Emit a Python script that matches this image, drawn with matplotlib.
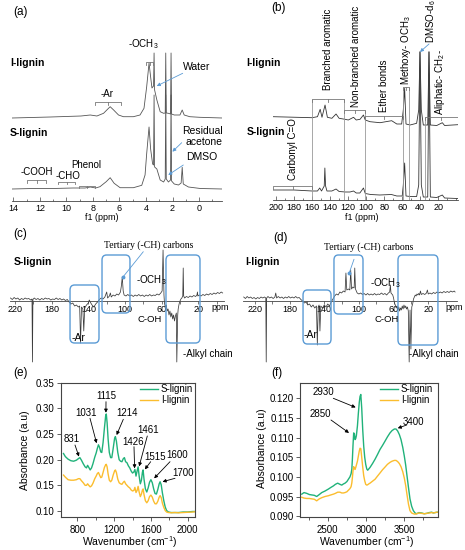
import numpy as np
import matplotlib
matplotlib.use("Agg")
import matplotlib.pyplot as plt
from matplotlib.patches import FancyBboxPatch
from matplotlib.ticker import MultipleLocator, FixedLocator, FormatStrFormatter

plt.rcParams['font.family'] = ['Liberation Sans', 'DejaVu Sans']
plt.rcParams['mathtext.default'] = 'regular'

W, H = 465, 550
GREEN = '#20b27a'
ORANGE = '#fbbd2e'
BLUE = '#5b9bd5'
GREY = '#555555'

# ---------------- (a) 1H NMR ----------------
a_ppm_I = [14.1, 11.2, 8.9, 8.2, 7.7, 7.2, 6.9, 6.7, 6.44, 6.07,
           5.7, 4.95, 4.45, 4.15, 3.95, 3.77, 3.65, 3.55, 3.43, 3.39,
           3.35, 3.18, 2.93, 2.67, 2.55, 2.51, 2.47, 2.31, 2.15, 2.11,
           2.07, 1.87, 1.44, 1.27, 1.12, 0.7, -0.05, -1.75]
a_int_I = [0, 1, 2, 3, 2, 4.7, 8.7, 11.3, 8, 3,
           1.3, 1.3, 3, 9.7, 31, 55, 41, 30, 32, 65,
           28, 18, 6.3, 4.7, 5, 65, 5, 4.7, 4, 65,
           4, 3, 3, 8, 3, 1.3, 0.7, 0]
a_ppm_S = [14.1, 12.5, 11.0, 9.5, 8.6, 8.2, 7.8, 7.47, 7.0, 6.7,
           6.4, 5.95, 4.95, 4.32, 4.07, 3.95, 3.77, 3.65, 3.5, 3.43,
           3.39, 3.35, 3.18, 2.93, 2.67, 2.55, 2.51, 2.47, 2.31, 2.15,
           2.11, 2.07, 1.87, 1.55, 1.35, 1.27, 1.19, 0.8, -0.1, -1.75]
a_int_S = [0, 0.5, 0.5, 1, 1, 2, 1, 2.3, 7.3, 11.3,
           5.7, 1.3, 1.3, 3.7, 14, 35, 62, 40, 25, 24,
           94, 22, 20, 9, 7, 10, 94, 10, 7, 9,
           94, 8, 5, 4, 6, 21.7, 5, 2, 0.5, 0]

# ---------------- (b) 13C NMR ----------------
b_ppm_I = [203, 177, 160, 154, 151, 149, 145.6, 143, 138, 133.4,
           130, 123.4, 119.8, 114, 111, 106.8, 103, 101, 95.7, 84.6,
           71.7, 66, 60.6, 58.8, 57.3, 55.8, 51.3, 44, 41.7, 40.3,
           38.8, 36.6, 31.7, 30.3, 28.8, 21.7, 15.5, 13, -1.5]
b_int_I = [7.3, 6.7, 6.3, 7.3, 14.7, 6.7, 19, 6.7, 5.7, 10,
           5.7, 4.7, 4, 6.7, 4, 4.7, 9, 4, 2.3, 1.3,
           3.3, 0, 0, 14, 35.7, 0, -1, 0.7, 14, 72.3,
           14, -1, -1, 72.3, -1, -1.5, 1.3, -1.5, -0.7]
b_ppm_S = [203, 180, 160, 154, 151.5, 149.5, 146.5, 145.8, 145, 143.5,
           138, 133.4, 130, 123, 118, 114, 111, 107, 103, 101,
           95, 85, 72, 66, 60, 58.8, 57.3, 55.8, 51, 44,
           41.7, 40.3, 38.8, 36.6, 31.7, 30.3, 28.8, 21.7, 15.5, 13,
           -1.5]
b_int_S = [10, 10, 9, 9, 12, 9, 14, 32, 14, 9,
           9, 11, 8.5, 8, 8, 9, 7, 7, 12, 6.5,
           5.5, 5, 5.5, 4, 4, 15, 37, 4, 3.5, 3.5,
           15, 148, 15, 3, 3, 148, 3, 2.5, 5, 2,
           1.5]

# ---------------- (c) S-lignin DEPT ----------------
c_ppm = [225, 223, 221, 219, 217, 215, 213, 211, 209, 207,
         205, 203, 201.5, 201, 200.5, 199, 197, 195, 193, 191,
         189, 187, 185, 183, 181, 179, 177, 175, 173, 171,
         169, 167, 165, 163, 161, 159, 157, 155, 153, 151,
         149.5, 148.5, 147.5, 146, 145, 144, 142, 140, 139, 138,
         136, 134, 132, 130, 128, 126, 124, 122, 120, 119,
         117, 116, 115, 113, 111, 109, 107, 105, 104, 103,
         102, 101, 99, 97, 95, 93, 91, 89, 87, 85,
         83, 81, 79, 77, 75, 73, 71, 69, 67, 65,
         63, 61, 59.5, 58.5, 57.5, 57, 56, 55, 54, 53,
         52, 51, 50, 49, 48, 47, 46, 45, 44, 43.5,
         42.5, 42, 41, 40, 39, 38, 37, 36.5, 36, 35,
         33, 31, 29, 27, 25, 23, 21.5, 21, 20.5, 19,
         17, 15, 13, 11, 9, 7, 5, 3, 1, -1,
         -3, -5, -6.5]
c_int = [3, 1.5, 3.5, 2, 3, 1, 2.5, 1.5, 3, 2,
         2.5, 1, 2, -61, 1.5, 3, 1.5, 2.5, 1, 2.5,
         1.5, 3, 2, 2.5, 1, 2, 1.5, 3, 1.5, 2.5,
         1, 2, 0.5, 1.5, -1, -3, -2, -5, -4, -6,
         -5, -42, -6, -8, -30, -7, -4, -2, 1, -1,
         -4, -6, -3, -1, 1.5, 3, 2, 4, 9, 3,
         5, 8, 4, 6, 5, 7, 6, 9, 15, 24,
         10, 6, 5, 6.5, 5, 6, 4.5, 6, 5, 6.5,
         5, 6, 4.5, 6, 5, 6.5, 5, 6, 5.5, 7,
         6, 8, 10, 51, 6, -2, -6, -4, -10, -8,
         -14, -10, -16, -12, -18, -14, -20, -15, -12, -61,
         -14, -8, -3, 0, 2, 3, 5, 33, 5, 3,
         4.5, 3.5, 5, 4, 5.5, 4.5, 6, 9, 5, 6,
         5, 6.5, 5.5, 7, 6, 7.5, 6.5, 8, 7, 8.5,
         7.5, 9, 8]

# ---------------- (d) I-lignin DEPT ----------------
d_ppm = [233, 231, 229, 227, 225, 223, 221, 219, 217, 215,
         213, 211, 209, 207.5, 207, 206.5, 205, 203, 201, 199,
         197, 196, 195, 193, 191, 189, 187, 185, 183, 181,
         179, 177, 175, 173, 171, 169, 167, 165, 163, 161,
         159, 157, 155, 153, 151, 149, 148, 147, 146, 145,
         144, 142, 140, 138, 136, 134, 132, 130, 128, 126,
         124, 122, 120, 118, 116, 115, 114, 112, 110.5, 109.5,
         108.5, 107, 105.5, 104.8, 104, 102, 100, 98, 96, 94,
         92, 90, 88, 86, 84, 82, 80, 78, 76, 74,
         72, 70, 68, 66, 64.5, 63.7, 63, 61, 60, 59,
         58, 57, 56, 55, 54, 53, 52, 51, 50, 49,
         48, 47, 46, 45, 44, 43, 42, 41, 40, 39,
         38, 37, 36, 35, 34, 33, 32, 31, 30, 29,
         28, 26, 24, 22, 21, 20, 18, 16, 14, 12,
         10, 8, 6, 4, 2, 0, -2, -4, -6, -8,
         -10, -11]
d_int = [4, 2.5, 4.5, 3, 4, 2.5, 3.5, 2, 3.5, 2.5,
         4, 3, 4, 3, -61, 3, 4.5, 3, 4, 2.5,
         4, 8, 3, 4.5, 3, 4, 2.5, 4, 3, 4.5,
         3, 4, 3, 4.5, 3, 3.5, 1.5, 0, -2, -1,
         -4, -3, -6, -4, -7, -5, -44, -6, -4, -30,
         -5, -7, -4, -6, -3, -5, -1, 2, 5, 7,
         6, 9, 8, 10, 9, 28, 11, 12, 11, 31,
         12, 14, 13, 33, 12, 8, 7, 8, 6.5, 7.5,
         6, 7.5, 6, 7, 6, 7.5, 6, 7, 6.5, 8,
         6.5, 7.5, 6, 8, 9, 16, 8, 6, 3, -2,
         -4, -7, -5, -9, -6, -10, -7, -9, -5, -8,
         -4, -7, -5, -8, -6, -10, -61, -9, -48, -6,
         -3, 2, 4, 6, 5, 7, 6, 7.5, 6, 10,
         6.5, 7.5, 6.5, 8, 11, 7, 8, 7, 8.5, 7.5,
         9, 8, 9, 8, 9.5, 8.5, 9.5, 8.5, 10, 9,
         10, 9]

# ---------------- (e) FTIR fingerprint ----------------
e_wavenumber = [650, 670, 700, 730, 760, 790, 812, 828, 845, 865,
                885, 900, 912, 925, 940, 955, 970, 990, 1005, 1018,
                1030, 1042, 1055, 1066, 1080, 1095, 1108, 1115, 1124, 1135,
                1148, 1162, 1175, 1190, 1205, 1214, 1225, 1240, 1255, 1270,
                1285, 1300, 1312, 1325, 1340, 1355, 1370, 1385, 1400, 1415,
                1426, 1438, 1450, 1461, 1472, 1485, 1497, 1508, 1515, 1525,
                1540, 1555, 1570, 1585, 1600, 1615, 1630, 1645, 1660, 1675,
                1690, 1700, 1712, 1725, 1740, 1755, 1770, 1790, 1820, 1860,
                1900, 1950, 2000, 2050, 2075]
e_abs_S = [0.212, 0.206, 0.201, 0.198, 0.197, 0.199, 0.202, 0.204, 0.199, 0.192,
           0.186, 0.184, 0.189, 0.185, 0.180, 0.184, 0.192, 0.205, 0.213, 0.222,
           0.229, 0.224, 0.215, 0.214, 0.233, 0.262, 0.285, 0.289, 0.272, 0.240,
           0.214, 0.204, 0.204, 0.222, 0.241, 0.245, 0.236, 0.214, 0.200, 0.197,
           0.196, 0.202, 0.204, 0.196, 0.194, 0.188, 0.184, 0.178, 0.174, 0.176,
           0.181, 0.168, 0.178, 0.186, 0.168, 0.153, 0.160, 0.176, 0.180, 0.162,
           0.143, 0.137, 0.145, 0.156, 0.161, 0.155, 0.143, 0.134, 0.133, 0.142,
           0.153, 0.157, 0.151, 0.135, 0.120, 0.108, 0.101, 0.098, 0.097, 0.097,
           0.097, 0.098, 0.098, 0.099, 0.099]
e_abs_I = [0.170, 0.166, 0.161, 0.160, 0.160, 0.161, 0.163, 0.163, 0.159, 0.155,
           0.150, 0.150, 0.153, 0.150, 0.147, 0.149, 0.154, 0.163, 0.168, 0.173,
           0.175, 0.170, 0.165, 0.166, 0.175, 0.185, 0.190, 0.191, 0.186, 0.172,
           0.160, 0.157, 0.160, 0.170, 0.178, 0.180, 0.175, 0.162, 0.155, 0.153,
           0.152, 0.156, 0.158, 0.153, 0.150, 0.147, 0.145, 0.141, 0.139, 0.140,
           0.146, 0.136, 0.140, 0.148, 0.137, 0.128, 0.133, 0.141, 0.143, 0.132,
           0.120, 0.116, 0.120, 0.128, 0.131, 0.127, 0.119, 0.114, 0.114, 0.119,
           0.127, 0.130, 0.126, 0.115, 0.107, 0.101, 0.098, 0.097, 0.0965, 0.097,
           0.0965, 0.097, 0.0975, 0.098, 0.0985]
e_peaks = ['831', '1031', '1115', '1214', '1426', '1461', '1515', '1600', '1700']

# ---------------- (f) FTIR high wavenumber ----------------
f_wavenumber = [2161, 2190, 2226, 2260, 2291, 2325, 2356, 2390, 2422, 2465,
                2509, 2540, 2574, 2600, 2630, 2660, 2683, 2705, 2726, 2750,
                2770, 2790, 2805, 2815, 2822, 2830, 2839, 2848, 2857, 2866,
                2874, 2888, 2900, 2912, 2922, 2932, 2944, 2957, 2970, 2983,
                2996, 3010, 3022, 3035, 3052, 3085, 3118, 3150, 3183, 3215,
                3248, 3280, 3313, 3340, 3370, 3392, 3413, 3435, 3457, 3480,
                3500, 3518, 3535, 3555, 3574, 3596, 3618, 3640, 3661, 3690,
                3727, 3760, 3792, 3825, 3857, 3880, 3901, 3930]
f_abs_S = [0.0956, 0.0960, 0.0958, 0.0955, 0.0954, 0.0953, 0.0950, 0.0955, 0.0960, 0.0964,
           0.0969, 0.0973, 0.0977, 0.0981, 0.0984, 0.0981, 0.0979, 0.0982, 0.0984, 0.0988,
           0.0994, 0.1000, 0.1008, 0.1020, 0.1045, 0.1080, 0.1112, 0.1110, 0.1095, 0.1098,
           0.1105, 0.1130, 0.1162, 0.1190, 0.1205, 0.1210, 0.1175, 0.1120, 0.1078, 0.1050,
           0.1032, 0.1020, 0.1017, 0.1020, 0.1024, 0.1034, 0.1045, 0.1057, 0.1070, 0.1080,
           0.1091, 0.1102, 0.1112, 0.1118, 0.1122, 0.1122, 0.1117, 0.1108, 0.1095, 0.1075,
           0.1053, 0.1030, 0.1003, 0.0972, 0.0944, 0.0925, 0.0914, 0.0908, 0.0906, 0.0909,
           0.0908, 0.0906, 0.0907, 0.0909, 0.0910, 0.0908, 0.0909, 0.0910]
f_abs_I = [0.0948, 0.0946, 0.0945, 0.0945, 0.0944, 0.0943, 0.0939, 0.0944, 0.0947, 0.0950,
           0.0952, 0.0954, 0.0956, 0.0958, 0.0961, 0.0961, 0.0959, 0.0959, 0.0960, 0.0962,
           0.0966, 0.0970, 0.0975, 0.0985, 0.0998, 0.1015, 0.1026, 0.1022, 0.1019, 0.1024,
           0.1030, 0.1040, 0.1053, 0.1066, 0.1073, 0.1072, 0.1050, 0.1025, 0.1003, 0.0990,
           0.0981, 0.0979, 0.0980, 0.0982, 0.0984, 0.0989, 0.0994, 0.1002, 0.1010, 0.1018,
           0.1025, 0.1032, 0.1037, 0.1040, 0.1042, 0.1042, 0.1039, 0.1034, 0.1026, 0.1013,
           0.0997, 0.0978, 0.0955, 0.0930, 0.0914, 0.0908, 0.0906, 0.0905, 0.0906, 0.0908,
           0.0907, 0.0906, 0.0907, 0.0908, 0.0909, 0.0908, 0.0909, 0.0910]
f_peaks = ['2930', '2850', '3400']


fig = plt.figure(figsize=(W / 100, H / 100), dpi=100)


def fx(x):
    return x / W


def fy(y):
    return 1 - y / H


def add_ax(left, top, right, bottom):
    return fig.add_axes([fx(left), fy(bottom), (right - left) / W, (bottom - top) / H])


def ftext(x, y, s, **kw):
    opts = dict(ha='center', va='center', fontsize=7)
    opts.update(kw)
    fig.text(fx(x), fy(y), s, **opts)


def bracket(ax, x0, x1, y, drop=2.5, color='#777777'):
    ax.plot([x0, x0, x1, x1], [y - drop, y, y, y - drop], color=color, lw=0.6)
    xm = (x0 + x1) / 2
    ax.plot([xm, xm], [y, y - drop], color=color, lw=0.6)


def pointer(ax, start_px, tip, color=BLUE, head=True):
    style = '-|>' if head else '-'
    ax.annotate('', xy=tip, xycoords='data',
                xytext=(fx(start_px[0]), fy(start_px[1])), textcoords='figure fraction',
                arrowprops=dict(arrowstyle=style, color=color, lw=0.6,
                                mutation_scale=5, shrinkA=0, shrinkB=0))


def nmr_axis(ax, tick_dir='in'):
    for s in ['left', 'right', 'top']:
        ax.spines[s].set_visible(False)
    ax.spines['bottom'].set_color('#444444')
    ax.spines['bottom'].set_linewidth(0.6)
    ax.set_yticks([])
    ax.tick_params(axis='x', which='major', direction=tick_dir, length=3, width=0.5,
                   labelsize=6.5, pad=2.5, color='#444444')
    ax.tick_params(axis='x', which='minor', direction=tick_dir, length=1.5, width=0.5,
                   color='#444444')
    ax.patch.set_alpha(0)


# ======== (a) ========
ax_a = add_ax(12, 40, 222, 201)
ax_a.plot(a_ppm_I, np.array(a_int_I) + 83, color=GREY, lw=0.6)
ax_a.plot(a_ppm_S, np.array(a_int_S) + 12, color=GREY, lw=0.6)
ax_a.set_xlim(14.1, -1.73)
ax_a.set_ylim(0, 161)
ax_a.xaxis.set_major_locator(MultipleLocator(2))
ax_a.xaxis.set_minor_locator(MultipleLocator(1))
nmr_axis(ax_a)
ftext(20.7, 11.7, '(a)', fontsize=8.5)
ftext(10, 63.3, 'I-lignin', ha='left', fontweight='bold', fontsize=7.5)
ftext(10, 132.7, 'S-lignin', ha='left', fontweight='bold', fontsize=7.5)
ftext(101.7, 217.7, 'f1 (ppm)', fontsize=6.5)
ftext(143.3, 44, '-OCH$_3$')
bracket(ax_a, 4.02, 3.45, 138.7)
ftext(107.3, 94, '-Ar')
bracket(ax_a, 7.84, 5.88, 98.7)
ftext(196.7, 66.7, 'Water', fontsize=7.5)
pointer(ax_a, (182.7, 73.3), (3.19, 115))
ftext(222.7, 130.7, 'Residual', ha='right', fontsize=7.5)
ftext(222.7, 141.7, 'acetone', ha='right', fontsize=7.5)
pointer(ax_a, (181.7, 142.7), (2.01, 49.3))
ftext(201.7, 157.3, 'DMSO', fontsize=7.5)
pointer(ax_a, (183.3, 165), (2.32, 26))
ftext(36.7, 171.7, '-COOH')
bracket(ax_a, 13.0, 11.5, 21)
ftext(68.3, 175.7, '-CHO')
bracket(ax_a, 10.6, 9.35, 19.3)
ftext(86, 165, 'Phenol')
bracket(ax_a, 9.05, 7.84, 15.3)

# ======== (b) ========
ax_b = add_ax(273.3, 40, 457.7, 200)
ax_b.plot(b_ppm_I, np.array(b_int_I) + 76, color='#333333', lw=0.6)
ax_b.plot(b_ppm_S, b_int_S, color='#333333', lw=0.6)
ax_b.set_xlim(203.0, -1.55)
ax_b.set_ylim(0, 160)
ax_b.xaxis.set_major_locator(FixedLocator([200, 180, 160, 140, 120, 100, 80, 60, 40, 20]))
ax_b.xaxis.set_minor_locator(MultipleLocator(10))
nmr_axis(ax_b)
ax_b.vlines([160.4, 124.2, 101.3, 58.8, 52.5, 34.8], 0, [101, 101, 90, 113, 113, 83],
            color='#999999', lw=0.6)
bracket(ax_b, 203, 160.4, 14)
bracket(ax_b, 160.4, 124.2, 101)
bracket(ax_b, 124.2, 101.3, 90)
bracket(ax_b, 101.3, 58.8, 84)
bracket(ax_b, 58.8, 52.5, 113)
bracket(ax_b, 34.8, -1.5, 83)
rot = dict(rotation=90, ha='center', va='bottom', fontsize=7)
ax_b.text(181, 20, 'Carbonyl C=O', **rot)
ax_b.text(142, 110, 'Branched aromatic', **rot)
ax_b.text(111, 93, 'Non-branched aromatic', **rot)
ax_b.text(80, 88, 'Ether bonds', **rot)
ax_b.text(56, 115, 'Methoxy- OCH$_3$', **rot)
ax_b.text(28, 157, 'DMSO-d$_6$', **rot)
ax_b.text(18, 85, 'Aliphatic- CH$_2$-', **rot)
pointer(ax_b, (429, 44), (40.3, 148))
ftext(278.3, 8.3, '(b)', fontsize=8.5)
ftext(246.7, 63.3, 'I-lignin', ha='left', fontweight='bold', fontsize=7.5)
ftext(246.7, 131.7, 'S-lignin', ha='left', fontweight='bold', fontsize=7.5)
ftext(361.7, 217.7, 'f1 (ppm)', fontsize=6.5)


# ======== (c) and (d) ========
def dept_panel(ax, ppm, inten, xlim, boxes, dot):
    ax.plot(ppm, inten, color='#3a3a3a', lw=0.55)
    ax.set_xlim(*xlim)
    ax.set_ylim(-64, 61)
    ax.spines['bottom'].set_position(('data', 0))
    ax.xaxis.set_major_locator(FixedLocator([220, 180, 140, 100, 60, 20]))
    ax.xaxis.set_minor_locator(FixedLocator([200, 160, 120, 80, 40, 0]))
    nmr_axis(ax, tick_dir='out')
    ax.tick_params(axis='x', which='major', length=2, pad=0.8)
    ax.tick_params(axis='x', which='minor', length=2)
    for x0, x1, y0, y1 in boxes:
        ax.add_patch(FancyBboxPatch((x1, y0), x0 - x1, y1 - y0,
                                    boxstyle='round,pad=0,rounding_size=5',
                                    fill=False, edgecolor=BLUE, lw=1.0, zorder=3))
    ax.plot(dot[0], dot[1], 'o', color=BLUE, ms=1.8, zorder=4)


ax_c = add_ax(10, 240, 224, 365)
dept_panel(ax_c, c_ppm, c_int, (225.5, -8.0),
           [(160.0, 128.4, -42, 16), (125.1, 94.6, -12, 46), (55.3, 18.2, -42, 46)],
           (102.5, 23.7))
pointer(ax_c, (143.3, 251.7), (102.5, 23.7), head=False)
ftext(20, 234, '(c)', fontsize=8.5)
ftext(14, 261.7, 'S-lignin', ha='left', fontweight='bold', fontsize=7.5)
ftext(148.3, 245, 'Tertiary (-CH) carbons', family='Liberation Serif', fontsize=7)
ftext(151.7, 280, '-OCH$_3$')
ftext(150, 319, 'C-OH', fontsize=6.8)
ftext(78.3, 337.7, '-Ar', fontsize=7.5)
ftext(208.3, 354, '-Alkyl chain')
ftext(220, 307.5, 'ppm', fontsize=6.5)

ax_d = add_ax(243, 240, 457, 365)
dept_panel(ax_d, d_ppm, d_int, (233.8, -13.2),
           [(164.5, 132.2, -43, 11), (128.8, 95.3, -13, 46), (54.9, 8.8, -44, 46)],
           (111.1, 28.3))
pointer(ax_d, (354, 259.3), (111.1, 28.3), head=False)
ftext(280, 238.3, '(d)', fontsize=8.5)
ftext(245, 261.7, 'I-lignin', ha='left', fontweight='bold', fontsize=7.5)
ftext(368.3, 247.3, 'Tertiary (-CH) carbons', family='Liberation Serif', fontsize=7)
ftext(385, 283.3, '-OCH$_3$')
ftext(386.7, 319, 'C-OH', fontsize=6.8)
ftext(310, 335, '-Ar', fontsize=7.5)
ftext(434, 354, '-Alkyl chain')
ftext(454, 307.5, 'ppm', fontsize=6.5)


# ======== (e) and (f) ========
def ftir_axis(ax):
    for s in ax.spines.values():
        s.set_color('#444444')
        s.set_linewidth(0.8)
    ax.tick_params(which='major', direction='out', length=3, width=0.6,
                   labelsize=7, color='#444444', pad=1.5)
    ax.tick_params(which='minor', direction='out', length=2, width=0.6, color='#444444')
    ax.tick_params(axis='x', which='major', pad=2.5)
    ax.tick_params(top=False, right=False, which='both')


def note(ax, label, text_px, start_px, tip):
    ftext(text_px[0], text_px[1], label, fontsize=7)
    pointer(ax, start_px, tip, color='black')


ax_e = add_ax(61, 382.7, 195, 517)
ax_e.plot(e_wavenumber, e_abs_S, color=GREEN, lw=1.0, label='S-lignin')
ax_e.plot(e_wavenumber, e_abs_I, color=ORANGE, lw=1.0, label='I-lignin')
ax_e.set_xlim(623, 2079)
ax_e.set_ylim(0.0883, 0.35)
ax_e.xaxis.set_major_locator(MultipleLocator(400))
ax_e.xaxis.set_minor_locator(FixedLocator([1000, 1400, 1800]))
ax_e.yaxis.set_major_locator(MultipleLocator(0.05))
ax_e.yaxis.set_major_formatter(FormatStrFormatter('%.2f'))
ftir_axis(ax_e)
ax_e.legend(loc='upper right', bbox_to_anchor=(fx(193), fy(384)),
            bbox_transform=fig.transFigure, frameon=False, fontsize=7,
            handlelength=1.8, handletextpad=0.3, labelspacing=0.1,
            borderpad=0, borderaxespad=0)
e_text = [(71.7, 439.3), (86, 413.3), (106, 396), (126.7, 413.3), (133.3, 441.7),
          (148.3, 430), (155, 457.3), (176.7, 455), (183.3, 473.3)]
e_start = [(75, 445), (90, 418.3), (106, 401.7), (123.3, 419.3), (134, 446.7),
           (147.3, 436), (150.7, 461.7), (170, 461.7), (175, 478.3)]
e_tip = [(818, 0.206), (1010, 0.232), (1111, 0.2915), (1227, 0.248), (1423, 0.183),
         (1472, 0.187), (1534, 0.181), (1635, 0.1636), (1726, 0.157)]
for lab, t, s, p in zip(e_peaks, e_text, e_start, e_tip):
    note(ax_e, lab, t, s, p)
ftext(20.7, 372.7, '(e)', fontsize=8.5)
ftext(25, 450, 'Absorbance (a.u)', rotation=90, fontsize=7.5)
ftext(130, 542.5, 'Wavenumber (cm$^{-1}$)', fontsize=7.5)

ax_f = add_ax(300, 382.7, 437.7, 517.3)
ax_f.plot(f_wavenumber, f_abs_S, color=GREEN, lw=1.0, label='S-lignin')
ax_f.plot(f_wavenumber, f_abs_I, color=ORANGE, lw=1.0, label='I-lignin')
ax_f.set_xlim(2138, 3936)
ax_f.set_ylim(0.0897, 0.124)
ax_f.xaxis.set_major_locator(MultipleLocator(500))
ax_f.xaxis.set_minor_locator(FixedLocator([2250, 2750, 3250, 3750]))
ax_f.yaxis.set_major_locator(MultipleLocator(0.005))
ax_f.yaxis.set_major_formatter(FormatStrFormatter('%.3f'))
ftir_axis(ax_f)
ax_f.legend(loc='upper right', bbox_to_anchor=(fx(433), fy(384)),
            bbox_transform=fig.transFigure, frameon=False, fontsize=7,
            handlelength=1.8, handletextpad=0.3, labelspacing=0.1,
            borderpad=0, borderaxespad=0)
f_text = [(323.3, 391.7), (320, 414.3), (413.3, 421.7)]
f_start = [(333.3, 398.3), (331, 420), (406.7, 425)]
f_tip = [(2865, 0.1177), (2778, 0.1112), (3414, 0.1124)]
for lab, t, s, p in zip(f_peaks, f_text, f_start, f_tip):
    note(ax_f, lab, t, s, p)
ftext(277.3, 373.3, '(f)', fontsize=8.5)
ftext(262, 448, 'Absorbance (a.u)', rotation=90, fontsize=7.5)
ftext(367, 542.5, 'Wavenumber (cm$^{-1}$)', fontsize=7.5)

fig.savefig('out.png', dpi=100)
